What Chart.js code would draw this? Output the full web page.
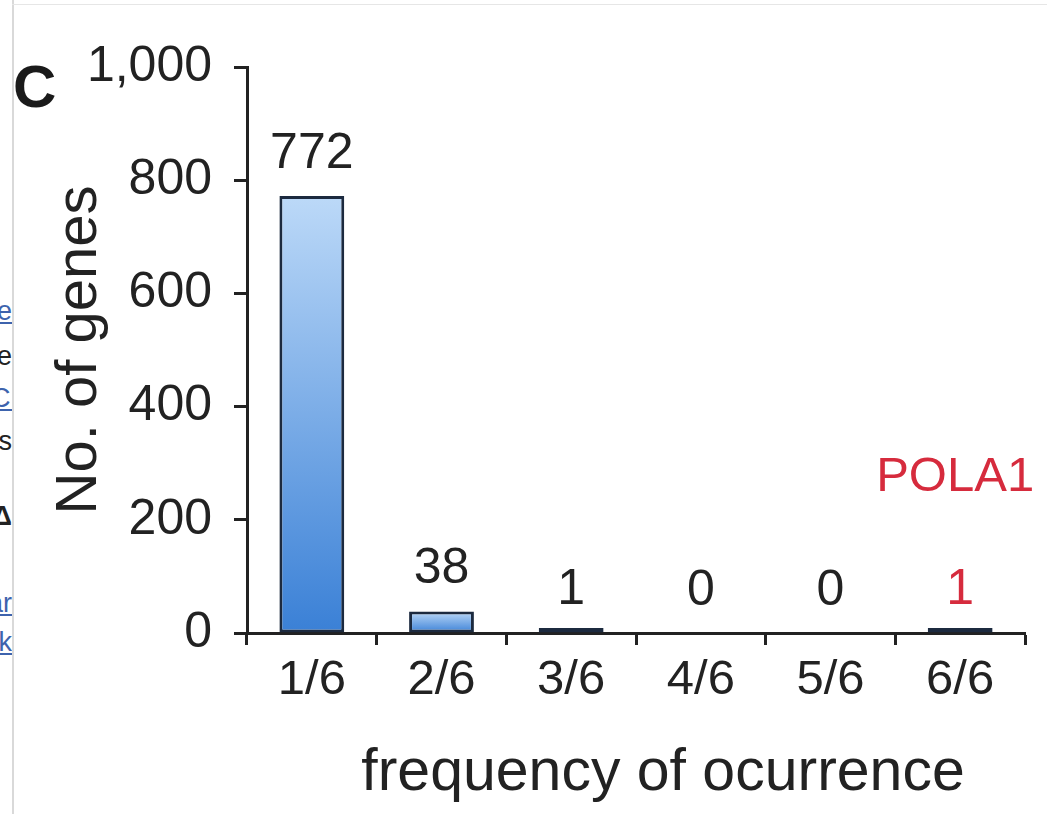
<!DOCTYPE html>
<html>
<head>
<meta charset="utf-8">
<script src="https://cdn.jsdelivr.net/npm/chart.js@4.4.0/dist/chart.umd.min.js"></script>
<style>
  html, body { margin: 0; padding: 0; background: #fff; }
  body { width: 1047px; height: 814px; position: relative; overflow: hidden; font-family: "Liberation Sans", Arial, sans-serif; }
  #chart { position: absolute; left: 0; top: 0; }
  /* cut-off page text on the left */
  #strip { position: absolute; left: 0; top: 0; width: 12px; height: 814px; overflow: hidden; background: #fff; }
  #strip span { position: absolute; right: 0; white-space: nowrap; font-size: 27px; line-height: 1; color: #222; }
  #strip .lnk { color: #3d63ad; text-decoration: underline; }
  #edge { position: absolute; left: 12px; top: 0; width: 2px; height: 814px; background: #d9d9d9; }
  #topline { position: absolute; left: 12px; top: 4px; right: 0; height: 1px; background: #e6e6e6; }
</style>
</head>
<body>
<canvas id="chart" width="1047" height="814"></canvas>
<div id="strip">
  <span class="lnk" style="top:298px">Reference</span>
  <span style="top:343px">the</span>
  <span class="lnk" style="top:385px;right:-6px">NCI</span>
  <span style="top:428px">cells</span>
  <span style="top:503px;font-weight:bold">Δ</span>
  <span class="lnk" style="top:590px">Similar</span>
  <span class="lnk" style="top:629px">Link</span>
</div>
<div id="edge"></div>
<div id="topline"></div>
<script>
// === Données ===
const categories = ['1/6', '2/6', '3/6', '4/6', '5/6', '6/6'];
const geneCounts = [772, 38, 1, 0, 0, 1];
const yTickLabels = ['0', '200', '400', '600', '800', '1,000'];
const highlightIndex = 5;          // 6/6 -> POLA1
const highlightName = 'POLA1';
const xTitle = 'frequency of ocurrence';
const yTitle = 'No. of genes';

const INK = '#222222';
const RED = '#d62b3d';
const EDGE = '#1c2a3f';
const FONT = '"Liberation Sans", Arial, sans-serif';

// === Dégradé par barre (clair en haut, foncé en bas) ===
function barFill(ctx) {
  const chart = ctx.chart;
  const { chartArea, scales } = chart;
  if (!chartArea || ctx.type !== 'data') return '#6fa6e6';
  const top = scales.y.getPixelForValue(ctx.raw);
  const base = scales.y.getPixelForValue(0);
  if (!(base - top > 2)) return EDGE;
  const g = chart.ctx.createLinearGradient(0, top, 0, base);
  g.addColorStop(0, '#bcd9f8');
  g.addColorStop(1, '#3a80d6');
  return g;
}

// === Étiquettes au-dessus des barres + "C" + POLA1 + titre x ===
const labelsPlugin = {
  id: 'labels',
  afterDraw(chart) {
    const { ctx, scales } = chart;
    ctx.save();
    ctx.textAlign = 'center';
    ctx.textBaseline = 'middle';
    ctx.font = '50px ' + FONT;
    geneCounts.forEach((v, i) => {
      const x = scales.x.getPixelForValue(i);
      const y = scales.y.getPixelForValue(v) - 42;
      ctx.fillStyle = i === highlightIndex ? RED : INK;
      ctx.fillText(String(v), x, y);
    });
    ctx.fillStyle = RED;
    ctx.font = '49px ' + FONT;
    ctx.fillText(highlightName, scales.x.getPixelForValue(highlightIndex) - 5, scales.y.getPixelForValue(0) - 156);

    // titre de l'axe x (un peu décalé à droite comme sur la figure)
    ctx.fillStyle = INK;
    ctx.textBaseline = 'alphabetic';
    ctx.font = '59px ' + FONT;
    ctx.fillText(xTitle, 663, 790);

    ctx.fillStyle = '#1a1a1a';
    ctx.textAlign = 'left';
    ctx.font = 'bold 60px ' + FONT;
    ctx.fillText('C', 13, 107);
    ctx.restore();
  }
};

new Chart(document.getElementById('chart').getContext('2d'), {
  type: 'bar',
  data: {
    labels: categories,
    datasets: [{
      data: geneCounts.map(v => v === 0 ? null : v),
      backgroundColor: barFill,
      borderColor: EDGE,
      borderWidth: 3,
      borderSkipped: false,
      minBarLength: 5,
      barPercentage: 0.5,
      categoryPercentage: 1
    }]
  },
  options: {
    responsive: false,
    animation: false,
    events: [],
    layout: { padding: { left: 0, right: 22, top: 67, bottom: 0 } },
    plugins: { legend: { display: false }, tooltip: { enabled: false } },
    scales: {
      x: {
        afterFit: s => { s.height = 181; },
        grid: { offset: true, drawOnChartArea: false, drawTicks: true, tickLength: 12, tickWidth: 3, tickColor: INK },
        border: { display: true, color: INK, width: 3 },
        ticks: { color: INK, padding: 6, font: { family: FONT, size: 49 } }
      },
      y: {
        min: 0, max: 1000,
        afterFit: s => { s.width = 247; },
        grid: { drawOnChartArea: false, drawTicks: true, tickLength: 13, tickWidth: 3, tickColor: INK },
        border: { display: true, color: INK, width: 3 },
        ticks: {
          stepSize: 200, color: INK, padding: 22,
          font: { family: FONT, size: 50 },
          callback: (v, i) => yTickLabels[i]
        },
        title: {
          display: true, text: yTitle, color: INK,
          padding: { top: 45, bottom: 0 },
          font: { family: FONT, size: 58 }
        }
      }
    }
  },
  plugins: [labelsPlugin]
});
</script>
</body>
</html>
